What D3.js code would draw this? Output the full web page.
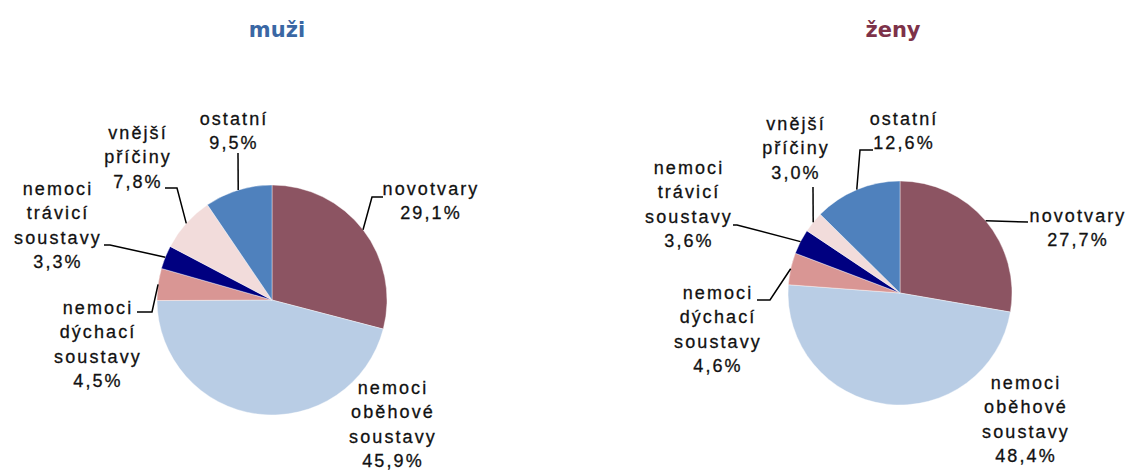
<!DOCTYPE html>
<html>
<head>
<meta charset="utf-8">
<script src="https://cdn.jsdelivr.net/npm/d3@7"></script>
<style>
  body { margin: 0; background: #fff; }
  svg text { font-family: "Liberation Sans", Arial, sans-serif; }
</style>
</head>
<body>
<div id="chart"></div>
<script>
// categories (clockwise from 12 o'clock)
const categories = ['novotvary', 'nemoci oběhové soustavy', 'nemoci dýchací soustavy',
                    'nemoci trávicí soustavy', 'vnější příčiny', 'ostatní'];
const colors = ['#8C5462', '#B9CDE5', '#D99694', '#000080', '#F2DCDB', '#4F81BD'];

// values in %
const muzi = [29.1, 45.9, 4.5, 3.3, 7.8, 9.5];
const zeny = [27.7, 48.4, 4.6, 3.6, 3.0, 12.6];

const muziLabels = ['29,1%', '45,9%', '4,5%', '3,3%', '7,8%', '9,5%'];
const zenyLabels = ['27,7%', '48,4%', '4,6%', '3,6%', '3,0%', '12,6%'];

// label text lines per category
const labelLines = [
    ['novotvary'],
    ['nemoci', 'oběhové', 'soustavy'],
    ['nemoci', 'dýchací', 'soustavy'],
    ['nemoci', 'trávicí', 'soustavy'],
    ['vnější', 'příčiny'],
    ['ostatní']
];

// layout: label centre (x, first line y) and leader elbow / end points, relative to pie centre
const layouts = [
    {
        title: 'muži', titleColor: '#3A67A4', cx: 272, cy: 300, r: 115, titleX: 277,
        values: muzi, pct: muziLabels,
        labels: [[158, -112], [120, 87], [-175, 7], [-215, -112], [-135, -168], [-39, -182]],
        leaders: [[[100, -103], [111, -103]], null, [[-120, 12], [-135, 12]],
                  [[-162, -55], [-168, -55]], [[-95, -112], [-107, -112]], [[-34, -147]]]
    },
    {
        title: 'ženy', titleColor: '#7D3249', cx: 900, cy: 293, r: 112, titleX: 893,
        values: zeny, pct: zenyLabels,
        labels: [[177, -78], [125, 89], [-183, -1], [-212, -126], [-105, -170], [3, -175]],
        leaders: [[[128, -71]], null, [[-130, 7], [-143, 7]],
                  [[-163, -68], [-167, -68]], [[-87, -106]], [[-40, -143], [-27, -143]]]
    }
];

const lineH = 24.6;

const svg = d3.select('#chart')
    .append('svg')
    .attr('width', 1129)
    .attr('height', 470);

const pie = d3.pie().sort(null).value(function(d) { return d; });

layouts.forEach(function(L) {
    const g = svg.append('g')
        .attr('transform', 'translate(' + L.cx + ',' + L.cy + ')');

    // title
    svg.append('text')
        .attr('x', L.titleX)
        .attr('y', 37)
        .attr('text-anchor', 'middle')
        .style('font-family', '"DejaVu Sans", Verdana, sans-serif')
        .style('font-weight', 'bold')
        .style('font-size', '21px')
        .style('fill', L.titleColor)
        .text(L.title);

    const arcs = pie(L.values);
    const arc = d3.arc().innerRadius(0).outerRadius(L.r);

    g.selectAll('path.slice')
        .data(arcs)
        .enter()
        .append('path')
        .attr('class', 'slice')
        .attr('d', arc)
        .attr('fill', function(d, i) { return colors[i]; })
        .attr('stroke', '#fff')
        .attr('stroke-width', 0.4);

    // leader lines
    arcs.forEach(function(d, i) {
        if (!L.leaders[i]) return;
        const a = (d.startAngle + d.endAngle) / 2;
        const pts = [[L.r * Math.sin(a), -L.r * Math.cos(a)]].concat(L.leaders[i]);
        g.append('path')
            .attr('d', d3.line()(pts))
            .attr('fill', 'none')
            .attr('stroke', '#000')
            .attr('stroke-width', 1.5);
    });

    // labels
    arcs.forEach(function(d, i) {
        const lines = labelLines[i].concat([L.pct[i]]);
        const t = g.append('text')
            .attr('text-anchor', 'middle')
            .style('font-size', '18px')
            .style('letter-spacing', '2.1px')
            .style('fill', '#111')
            .style('stroke', '#111')
            .style('stroke-width', '0.3px');
        lines.forEach(function(s, k) {
            t.append('tspan')
                .attr('x', L.labels[i][0] + 1)
                .attr('y', L.labels[i][1] + 6.5 + k * lineH)
                .text(s);
        });
    });
});
</script>
</body>
</html>
